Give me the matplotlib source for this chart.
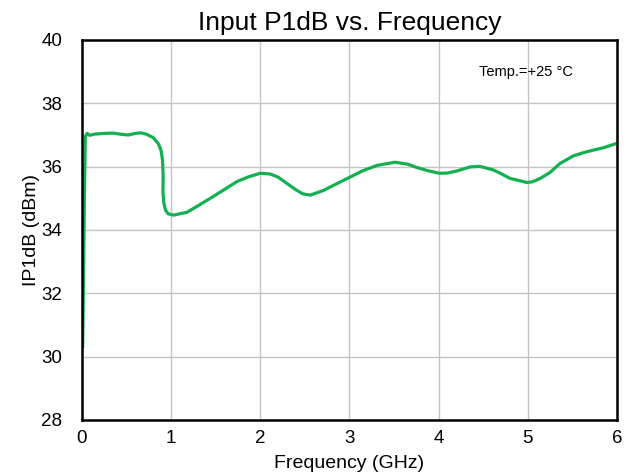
import matplotlib
matplotlib.use("Agg")
import matplotlib.pyplot as plt

plt.rcParams['font.family'] = ['Liberation Sans', 'DejaVu Sans']

# curve (GHz, dBm)
freq = [0.01, 0.02, 0.03, 0.04, 0.06, 0.09, 0.15, 0.25, 0.35, 0.45, 0.52,
        0.60, 0.66, 0.72, 0.80, 0.86, 0.89, 0.905, 0.912, 0.91, 0.92, 0.94,
        0.97, 1.03, 1.18, 1.30, 1.44, 1.60, 1.74, 1.87, 2.00, 2.11, 2.20,
        2.30, 2.40, 2.48, 2.56, 2.71, 2.85, 3.00, 3.15, 3.31, 3.51, 3.65,
        3.75, 3.88, 4.01, 4.10, 4.20, 4.35, 4.46, 4.61, 4.70, 4.80, 4.99,
        5.05, 5.14, 5.25, 5.36, 5.51, 5.62, 5.73, 5.85, 5.99]
ip1db = [30.3, 32.5, 35.2, 36.95, 37.05, 36.99, 37.03, 37.05, 37.06, 37.02, 37.0,
         37.05, 37.07, 37.03, 36.92, 36.72, 36.5, 36.2, 35.7, 35.2, 34.85, 34.62,
         34.51, 34.47, 34.56, 34.76, 35.0, 35.28, 35.53, 35.68, 35.79, 35.77, 35.67,
         35.47, 35.27, 35.14, 35.10, 35.25, 35.45, 35.66, 35.87, 36.04, 36.14, 36.08,
         35.98, 35.87, 35.79, 35.80, 35.86, 35.99, 36.01, 35.90, 35.78, 35.63, 35.50,
         35.52, 35.63, 35.82, 36.10, 36.34, 36.44, 36.52, 36.60, 36.73]

xticks = [0, 1, 2, 3, 4, 5, 6]
yticks = [28, 30, 32, 34, 36, 38, 40]

fig = plt.figure(figsize=(6.29, 4.75), dpi=100)
ax = fig.add_axes([0.130, 0.1158, 0.851, 0.8])

ax.plot(freq, ip1db, color='#12b050', linewidth=2.3,
        solid_capstyle='round', solid_joinstyle='round')

ax.set_xlim(0, 6)
ax.set_ylim(28, 40)
ax.set_xticks(xticks)
ax.set_yticks(yticks)
ax.grid(True, color='#c4c4c4', linewidth=1)
ax.set_axisbelow(True)
for s in ax.spines.values():
    s.set_linewidth(1.8)
    s.set_color('black')
ax.tick_params(length=0, labelsize=13.5)
ax.tick_params(axis='y', pad=14)
ax.tick_params(axis='x', pad=7)

ax.set_title('Input P1dB vs. Frequency', fontsize=19, pad=7)
ax.set_xlabel('Frequency (GHz)', fontsize=14, labelpad=6)
ax.set_ylabel('IP1dB (dBm)', fontsize=14, labelpad=1)
ax.text(4.98, 38.98, 'Temp.=+25 °C', fontsize=10.5, ha='center', va='center')

fig.savefig('out.png', dpi=100)
